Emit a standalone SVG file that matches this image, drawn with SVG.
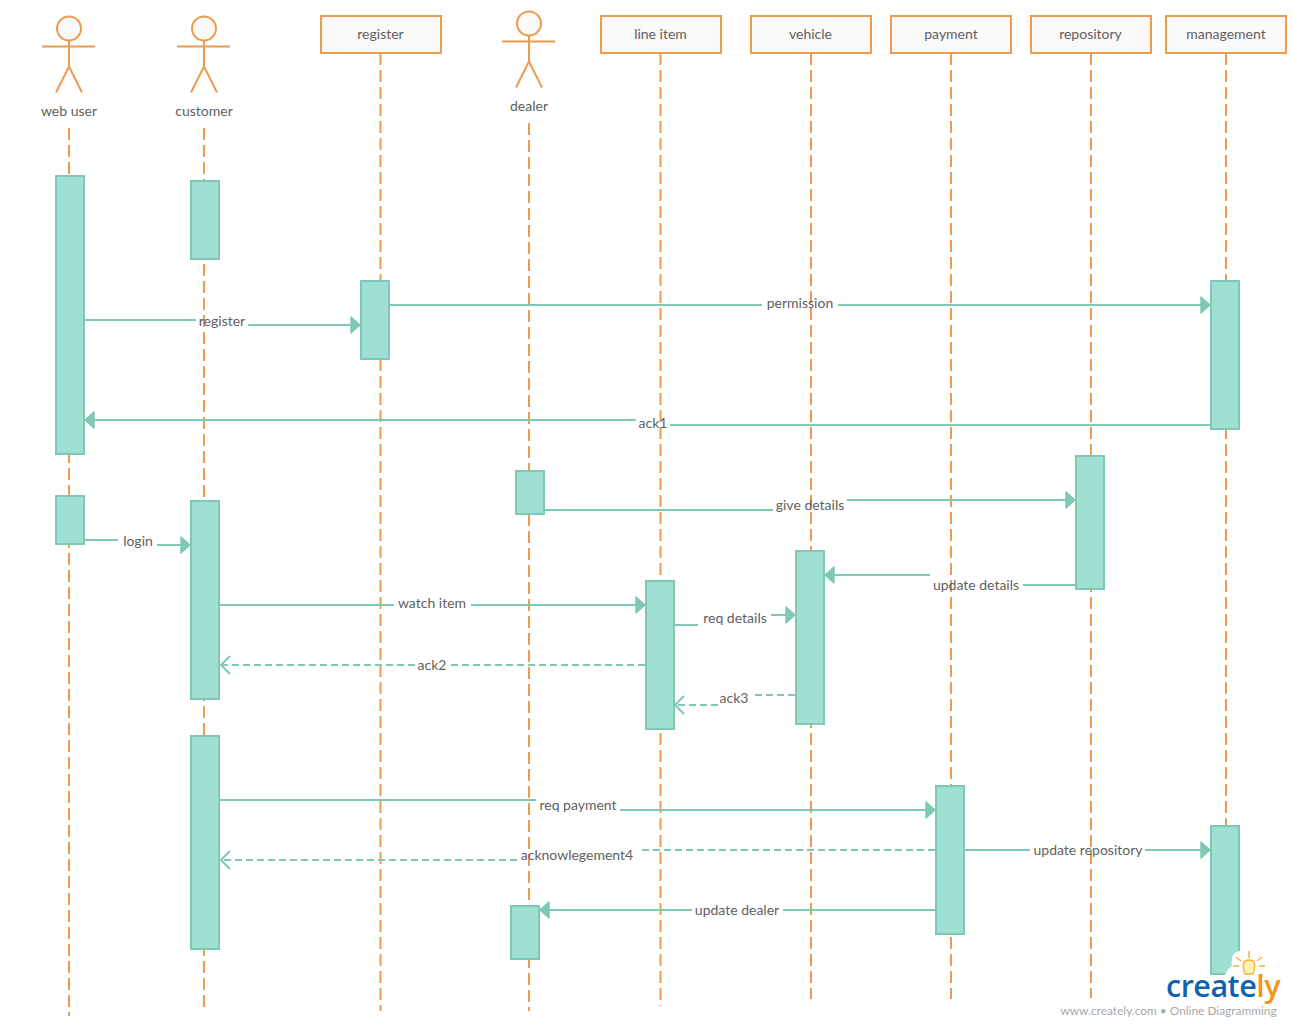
<svg xmlns="http://www.w3.org/2000/svg" width="1292" height="1024" viewBox="0 0 1292 1024">
<style>
text{font-family:Lato,"Open Sans","Liberation Sans",sans-serif;font-size:14px;fill:#5f5f5f;text-anchor:middle}
.life{stroke:#ee9b4e;stroke-width:2;stroke-dasharray:12 5;fill:none}
.box{fill:#f9f9f9;stroke:#ee9b4e;stroke-width:2}
.fig{fill:none;stroke:#ee9b4e;stroke-width:2}
.act{fill:#9fe0d2;stroke:#7fc8b6;stroke-width:2}
.msg{fill:none;stroke:#7fc8b6;stroke-width:2}
.dash{fill:none;stroke:#7fc8b6;stroke-width:2;stroke-dasharray:7 4}
.head{fill:#7fc8b6;stroke:#7fc8b6;stroke-width:1.500;stroke-linejoin:round}
.open{fill:none;stroke:#7fc8b6;stroke-width:2}
</style>
<defs>
<g id="actor"><circle cx="0" cy="12.500" r="12" fill="#f9f9f9" stroke="#ee9b4e" stroke-width="2"/><path class="fig" d="M0 24.500V50.500M-27 30.500H26M-13 76.500L0 50.500L13 76.500"/></g>
</defs>
<g id="lifelines">
<path class="life" d="M69 128V1016"/>
<path class="life" d="M204 128V1008"/>
<path class="life" d="M380.500 53V1011"/>
<path class="life" d="M529 123V1011"/>
<path class="life" d="M660.500 53V1006"/>
<path class="life" d="M811 53V999"/>
<path class="life" d="M951 53V999"/>
<path class="life" d="M1091 53V998"/>
<path class="life" d="M1226 53V976"/>
</g>
<g id="web-user"><use href="#actor" x="69" y="16"/><text x="69" y="116">web user</text></g>
<g id="customer"><use href="#actor" x="204" y="16"/><text x="204" y="116">customer</text></g>
<g id="dealer"><use href="#actor" x="529" y="11"/><text x="529" y="111">dealer</text></g>
<g id="register"><rect class="box" x="321" y="16" width="120" height="37"/><text x="380.500" y="39">register</text></g>
<g id="line-item"><rect class="box" x="601" y="16" width="120" height="37"/><text x="660.500" y="39">line item</text></g>
<g id="vehicle"><rect class="box" x="751" y="16" width="120" height="37"/><text x="810.500" y="39">vehicle</text></g>
<g id="payment"><rect class="box" x="891" y="16" width="120" height="37"/><text x="951" y="39">payment</text></g>
<g id="repository"><rect class="box" x="1031" y="16" width="120" height="37"/><text x="1090.500" y="39">repository</text></g>
<g id="management"><rect class="box" x="1166" y="16" width="120" height="37"/><text x="1226" y="39">management</text></g>
<g id="activations">
<rect class="act" x="56" y="176" width="28" height="278"/>
<rect class="act" x="56" y="496" width="28" height="48"/>
<rect class="act" x="191" y="181" width="28" height="78"/>
<rect class="act" x="191" y="501" width="28" height="198"/>
<rect class="act" x="191" y="736" width="28" height="213"/>
<rect class="act" x="361" y="281" width="28" height="78"/>
<rect class="act" x="516" y="471" width="28" height="43"/>
<rect class="act" x="511" y="906" width="28" height="53"/>
<rect class="act" x="646" y="581" width="28" height="148"/>
<rect class="act" x="796" y="551" width="28" height="173"/>
<rect class="act" x="936" y="786" width="28" height="148"/>
<rect class="act" x="1076" y="456" width="28" height="133"/>
<rect class="act" x="1211" y="281" width="28" height="148"/>
<rect class="act" x="1211" y="826" width="28" height="148"/>
</g>
<g id="connectors">
<path class="msg" d="M85 320H196M248 325H352"/><path class="head" d="M360 325L351 317V333Z"/>
<path class="msg" d="M390 305H762M838 305H1202"/><path class="head" d="M1210 305L1201 297V313Z"/>
<path class="msg" d="M1210 425H670M636 420H93"/><path class="head" d="M85 420L94 412V428Z"/>
<path class="msg" d="M545 510H773M847 500H1067"/><path class="head" d="M1075 500L1066 492V508Z"/>
<path class="msg" d="M85 540H118M157 545H182"/><path class="head" d="M190 545L181 537V553Z"/>
<path class="msg" d="M1075 585H1023M930 575H833"/><path class="head" d="M825 575L834 567V583Z"/>
<path class="msg" d="M220 605H394M471 605H637"/><path class="head" d="M645 605L636 597V613Z"/>
<path class="msg" d="M675 625H698M771 615H787"/><path class="head" d="M795 615L786 607V623Z"/>
<path class="dash" d="M645 665H448M415 665H221"/><path class="open" d="M230 656L221 665L230 674"/>
<path class="dash" d="M795 695H752M718 705H676"/><path class="open" d="M684 696L675 705L684 714"/>
<path class="msg" d="M220 800H536M620 810H927"/><path class="head" d="M935 810L926 802V818Z"/>
<path class="dash" d="M935 850H639M517 860H221"/><path class="open" d="M230 851L221 860L230 869"/>
<path class="msg" d="M965 850H1030M1145 850H1202"/><path class="head" d="M1210 850L1201 842V858Z"/>
<path class="msg" d="M935 910H783M692 910H548"/><path class="head" d="M540 910L549 902V918Z"/>
</g>
<g id="labels">
<text x="222" y="326">register</text>
<text x="800" y="308">permission</text>
<text x="653" y="428">ack1</text>
<text x="810" y="510">give details</text>
<text x="138" y="546">login</text>
<text x="976" y="590">update details</text>
<text x="432" y="608">watch item</text>
<text x="735" y="623">req details</text>
<text x="432" y="670">ack2</text>
<text x="734" y="703">ack3</text>
<text x="578" y="810">req payment</text>
<text x="577" y="860">acknowlegement4</text>
<text x="1088" y="855">update repository</text>
<text x="737" y="915">update dealer</text>
</g>
<g id="logo">
<path d="M1225 975Q1228 968 1232 966Q1230 952 1240 951Q1262 950 1266 975Q1282 985 1280 1003H1165Q1168 978 1225 975Z" fill="#fff"/>
<path d="M1249 951V958M1236 957L1241 961M1262 957L1257 961M1233 966H1239M1265 966H1259" fill="none" stroke="#fbb034" stroke-width="1.500"/>
<path d="M1245 974Q1240 960 1249 960Q1258 960 1253 974Z" fill="#fdf3b0" stroke="#fbb034" stroke-width="1.300"/>
<text x="1166" y="997" style="font-family:'Open Sans','Liberation Sans',sans-serif;font-size:30.500px;font-weight:600;fill:#0f62ac;text-anchor:start;letter-spacing:-.5px">create<tspan style="fill:#f7941e">ly</tspan></text>
<text x="1168.500" y="1015" style="font-size:11.900px;fill:#a8a8a8">www.creately.com  •  Online Diagramming</text>
</g>
</svg>
